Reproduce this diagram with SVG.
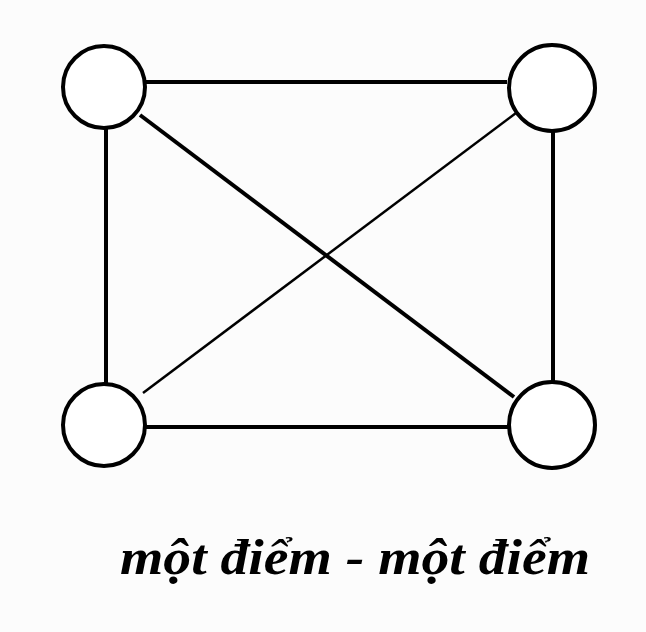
<svg xmlns="http://www.w3.org/2000/svg" width="646" height="632" viewBox="0 0 646 632">
<style>
.node circle{fill:#fff;stroke:#000;stroke-width:4}
.edge{stroke:#000;stroke-width:4;fill:none}
.thin{stroke-width:2.5}
.lbl{font-family:"Liberation Serif",serif;font-weight:bold;font-style:italic;font-size:50px;fill:#000}
</style>
<rect width="646" height="632" fill="#fcfcfc"/>
<g id="connectors">
<line class="edge" x1="145" y1="82" x2="507" y2="82"/>
<line class="edge" x1="106" y1="128" x2="106" y2="384"/>
<line class="edge" x1="553" y1="131" x2="553" y2="384"/>
<line class="edge" x1="145" y1="427" x2="508" y2="427"/>
<line class="edge" x1="140" y1="115" x2="514" y2="397"/>
<line class="edge thin" x1="516" y1="113" x2="143" y2="393"/>
</g>
<g id="n1" class="node"><circle cx="104" cy="87" r="41"/></g>
<g id="n2" class="node"><circle cx="552" cy="88" r="43"/></g>
<g id="n3" class="node"><circle cx="104" cy="425" r="41"/></g>
<g id="n4" class="node"><circle cx="552" cy="425" r="43"/></g>
<text class="lbl" x="120" y="574" textLength="470" lengthAdjust="spacingAndGlyphs">một điểm - một điểm</text>
</svg>
